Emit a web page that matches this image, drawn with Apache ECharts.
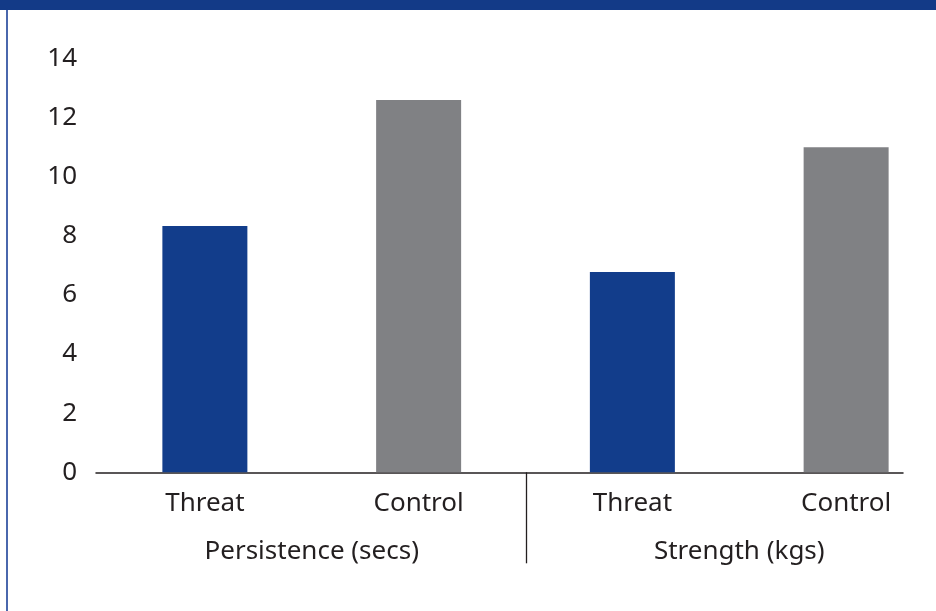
<!DOCTYPE html>
<html>
<head>
<meta charset="utf-8">
<script src="https://cdn.jsdelivr.net/npm/echarts@6/dist/echarts.min.js"></script>
<style>
  html, body { margin: 0; padding: 0; background: #fff; }
  #chart { width: 936px; height: 611px; }
</style>
</head>
<body>
<div id="chart"></div>
<script>
const categories = ["Threat", "Control", "Threat", "Control"];
const groups = ["Persistence (secs)", "Strength (kgs)"];
const values = [8.33, 12.6, 6.78, 11.0];
const barColors = ["#123d8b", "#808184", "#123d8b", "#808184"];

const textColor = "#231f20";
const font = "Noto Sans";

const chartDom = echarts.init(document.getElementById("chart"));

chartDom.setOption({
  animation: false,
  backgroundColor: "#fff",
  textStyle: { fontFamily: font },
  grid: [
    // wider than the canvas on purpose, bars sit off-centre in the reference
    { left: 98, width: 855, top: 58.5, bottom: 138.7, outerBoundsMode: "none" },
    // only used for the baseline
    { left: 96, right: 33, top: 58.5, bottom: 138.7, outerBoundsMode: "none" }
  ],
  xAxis: [
    {
      type: "category",
      gridIndex: 0,
      data: categories,
      axisLine: { show: false },
      axisTick: { show: false },
      axisLabel: { color: textColor, fontSize: 26, fontFamily: font, margin: 18 }
    },
    {
      type: "category",
      gridIndex: 0,
      position: "bottom",
      data: groups,
      axisLine: { show: false },
      axisTick: { show: false },
      axisLabel: { color: textColor, fontSize: 26, fontFamily: font, margin: 66 }
    },
    {
      type: "value",
      gridIndex: 1,
      min: 0,
      max: 1,
      axisLine: { show: true, lineStyle: { color: "#231f20", width: 1.5 } },
      axisTick: { show: false },
      axisLabel: { show: false },
      splitLine: { show: false }
    }
  ],
  yAxis: [
    {
      type: "value",
      gridIndex: 0,
      min: 0,
      max: 14,
      interval: 2,
      axisLine: { show: false },
      axisTick: { show: false },
      splitLine: { show: false },
      axisLabel: { color: textColor, fontSize: 26, fontFamily: font, margin: 21 }
    },
    {
      type: "value",
      gridIndex: 1,
      min: 0,
      max: 14,
      show: false
    }
  ],
  series: [
    {
      type: "bar",
      xAxisIndex: 0,
      yAxisIndex: 0,
      barWidth: 85,
      data: values.map((v, i) => ({ value: v, itemStyle: { color: barColors[i] } }))
    }
  ]
});

// header band, left border and group divider
const xMid = (chartDom.convertToPixel({ xAxisIndex: 0 }, 1) + chartDom.convertToPixel({ xAxisIndex: 0 }, 2)) / 2;
const yBase = chartDom.convertToPixel({ yAxisIndex: 0 }, 0);
chartDom.setOption({
  graphic: [
    { type: "rect", shape: { x: 0, y: 0, width: 936, height: 10 }, style: { fill: "#133a87" }, silent: true },
    { type: "rect", shape: { x: 6, y: 10, width: 2, height: 601 }, style: { fill: "#4a67ad" }, silent: true },
    {
      type: "line",
      shape: { x1: Math.round(xMid) + 0.5, y1: yBase, x2: Math.round(xMid) + 0.5, y2: yBase + 91 },
      style: { stroke: "#231f20", lineWidth: 1.3 },
      silent: true
    }
  ]
});
</script>
</body>
</html>
